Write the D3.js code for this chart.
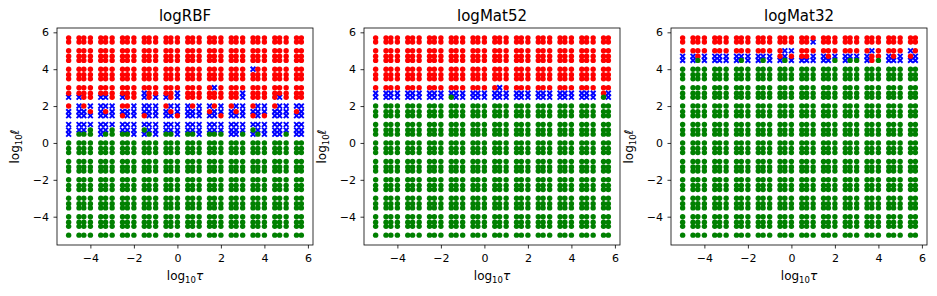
<!DOCTYPE html>
<html>
<head>
<meta charset="utf-8">
<script src="https://cdn.jsdelivr.net/npm/d3@7"></script>
<style>
body { margin: 0; background: #fff; }
text { font-family: 'DejaVu Sans', sans-serif; fill: #000; }
</style>
</head>
<body>
<svg id="fig" width="937" height="296"></svg>
<script>

//grid values (log10 of 1,3,5 x 10^n)
var tauVals = [-5, -4.523, -4.301, -4, -3.523, -3.301, -3, -2.523, -2.301, -2,
	-1.523, -1.301, -1, -0.523, -0.301, 0, 0.477, 0.699, 1, 1.477, 1.699, 2,
	2.477, 2.699, 3, 3.477, 3.699, 4, 4.477, 4.699, 5, 5.477, 5.699];
var ellVals = tauVals.slice();

var titles = ['logRBF', 'logMat52', 'logMat32'];
var tickVals = [-4, -2, 0, 2, 4, 6];

//class per grid point, top row = largest ell, spaces only split the clusters
var R = 'r rrr rrr rrr rrr rrr rrr rrr rrr rrr rrr rr';
var B = 'b bbb bbb bbb bbb bbb bbb bbb bbb bbb bbb bb';
var G = 'g ggg ggg ggg ggg ggg ggg ggg ggg ggg ggg gg';

var rbfRows = [R, R, R, R, R,
	'r rrr rrr rrr rrr rrr rrr rrr rrr brr rrr rr',
	R, R,
	'r rrr rrr rrr rrr rrr rrr rbr rrr rrr rrr rr',
	'r rrr rrr rrr brr rrb rrr rrr rrb rrr rrr rr',
	'b brr bbr brr brb brb rrr rrr rrb rrr rbr rr',
	'r brb bbb rrb bbb rbb brb brb rbb rbb rbb bb',
	'b bbr brb bbb bbb brb bbb rbb brb bbb bbb rb',
	'b bbb bbb rbb rbb bbr bbb bbr bbb rbr bbb bb',
	B,
	'b bbg bbg bbb gbb bbb bbb bbb bbb gbb bbb bb',
	'b ggg bgg ggb bgb ggb ggb ggg bbg bgb bbg bb',
	G, G, G, G, G, G, G, G, G, G, G, G, G, G, G, G];

var mat52Rows = [R, R, R, R, R, R, R, R,
	'r rrr rrr rrr rrr rrr rbr rrr rrr rrr rrr rr',
	'b bbb bbb bbb bbb bbb bbb bbb bbb bbb bbb rb',
	'b bbb bbb bbb gbb bbb bbb bbb bbb bbb bbb gb',
	G, G, G, G, G, G, G, G, G, G, G, G, G, G, G, G, G, G, G, G, G, G];

var mat32Rows = [R,
	'r rrr rrr rrr rrr rrr rrb rrr rrr rrr rrr rr',
	'r rrr rrr rrr rrr rbb rrr rrr rrr rbr rrr br',
	'b brb bbb bbb bbb rbr rrb brb bbb brr brb rb',
	'b bgb bbb bgb bgb bgb bbb bbg bgg brg bbb bb',
	G, G, G, G, G, G, G, G, G, G, G, G, G, G, G, G, G, G, G, G, G, G, G, G, G, G, G, G];

var colours = {r: '#ff0000', b: '#0000ff', g: '#008000'};

//layout
var panelX = [57, 364, 671];
var plotTop = 28, w = 256, h = 217;

var x = d3.scaleLinear().domain([-5.535, 6.234]).range([0, w]);
var y = d3.scaleLinear().domain([-5.535, 6.234]).range([h, 0]);

function toPoints(rows) {
	var pts = [];
	rows.forEach(function(row, i) {
		var cells = row.replace(/ /g, '').split('');
		cells.forEach(function(c, j) {
			pts.push({tau: tauVals[j], ell: ellVals[ellVals.length - 1 - i], c: c});
		});
	});
	return pts;
}

var svg = d3.select('#fig');
svg.append('rect').attr('width', 937).attr('height', 296).attr('fill', '#fff');

[rbfRows, mat52Rows, mat32Rows].forEach(function(rows, p) {

	var pts = toPoints(rows);
	var chart = svg.append('g')
		.attr('transform', 'translate(' + panelX[p] + ',' + plotTop + ')');

	//blue crosses first, circles over them
	var s = 2.4;
	chart.selectAll('path.cross')
		.data(pts.filter(function(d) { return d.c == 'b'; }))
		.enter()
		.append('path')
		.attr('class', 'cross')
		.attr('d', function(d) {
			var cx = x(d.tau), cy = y(d.ell);
			return 'M' + (cx - s) + ',' + (cy - s) + 'L' + (cx + s) + ',' + (cy + s) +
				'M' + (cx - s) + ',' + (cy + s) + 'L' + (cx + s) + ',' + (cy - s);
		})
		.attr('stroke', colours.b)
		.attr('stroke-width', 1.9);

	['r', 'g'].forEach(function(k) {
		chart.selectAll('circle.' + k)
			.data(pts.filter(function(d) { return d.c == k; }))
			.enter()
			.append('circle')
			.attr('class', k)
			.attr('cx', function(d) { return x(d.tau); })
			.attr('cy', function(d) { return y(d.ell); })
			.attr('r', 2.7)
			.attr('fill', colours[k]);
	});

	//axes
	var xAxis = chart.append('g')
		.attr('transform', 'translate(0,' + h + ')')
		.call(d3.axisBottom(x).tickValues(tickVals).tickSize(3.5).tickPadding(5.5));
	var yAxis = chart.append('g')
		.call(d3.axisLeft(y).tickValues(tickVals).tickSize(3.5).tickPadding(4.5));

	[xAxis, yAxis].forEach(function(a) {
		a.select('.domain').remove();
		a.selectAll('line').attr('stroke', '#000').attr('stroke-width', 0.8);
		a.selectAll('text').style('font-family', 'DejaVu Sans').style('font-size', '11px').attr('fill', '#000');
	});

	chart.append('rect')
		.attr('width', w)
		.attr('height', h)
		.attr('fill', 'none')
		.attr('stroke', '#000')
		.attr('stroke-width', 0.8);

	//title
	chart.append('text')
		.attr('x', w / 2)
		.attr('y', -7)
		.style('text-anchor', 'middle')
		.style('font-size', '15px')
		.text(titles[p]);

	//x label
	var xl = chart.append('text')
		.attr('x', w / 2)
		.attr('y', h + 35)
		.style('text-anchor', 'middle')
		.style('font-size', '12px');
	xl.append('tspan').text('log');
	xl.append('tspan').attr('dy', 3).style('font-size', '8.5px').text('10');
	xl.append('tspan').attr('dy', -3).style('font-style', 'italic').text('τ');

	//y label
	var yl = chart.append('text')
		.attr('transform', 'translate(-38,' + (h / 2 + 10) + ') rotate(-90)')
		.style('text-anchor', 'middle')
		.style('font-size', '12px');
	yl.append('tspan').text('log');
	yl.append('tspan').attr('dy', 3).style('font-size', '8.5px').text('10');
	yl.append('tspan').attr('dy', -3).style('font-style', 'italic').text('ℓ');
});

</script>
</body>
</html>
